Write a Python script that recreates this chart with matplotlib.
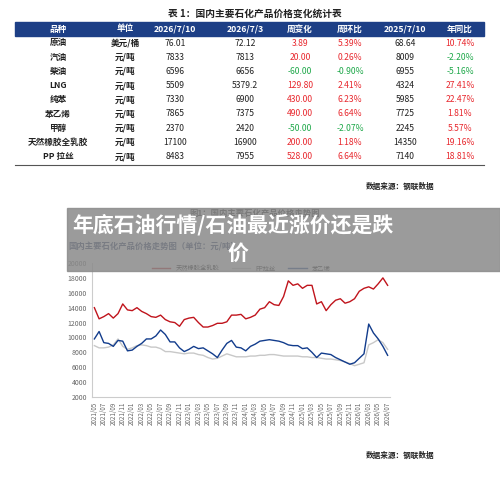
import matplotlib
matplotlib.use('Agg')
import matplotlib.pyplot as plt
from matplotlib.patches import Rectangle
import numpy as np

plt.rcParams['font.family'] = ['Noto Sans CJK SC', 'DejaVu Sans']

# 表格数据
header = ['品种', '单位', '2026/7/10', '2026/7/3', '周变化', '周环比', '2025/7/10', '年同比']
names = ['原油', '汽油', '柴油', 'LNG', '纯苯', '苯乙烯', '甲醇', '天然橡胶全乳胶', 'PP 拉丝']
units = ['美元/桶', '元/吨', '元/吨', '元/吨', '元/吨', '元/吨', '元/吨', '元/吨', '元/吨']
p_now = ['76.01', '7833', '6596', '5509', '7330', '7865', '2370', '17100', '8483']
p_week = ['72.12', '7813', '6656', '5379.2', '6900', '7375', '2420', '16900', '7955']
chg = ['3.89', '20.00', '-60.00', '129.80', '430.00', '490.00', '-50.00', '200.00', '528.00']
chg_pct = ['5.39%', '0.26%', '-0.90%', '2.41%', '6.23%', '6.64%', '-2.07%', '1.18%', '6.64%']
p_year = ['68.64', '8009', '6955', '4324', '5985', '7725', '2245', '14350', '7140']
yoy = ['10.74%', '-2.20%', '-5.16%', '27.41%', '22.47%', '1.81%', '5.57%', '19.16%', '18.81%']

# 走势图数据（月度，2021/05 - 2026/07）
rubber = [14000, 12500, 12800, 13200, 12600, 13200, 14500, 13700,
          13600, 14000, 13500, 13200, 12800, 12700, 13000, 12400, 12100, 12000, 11500, 12400,
          12600, 12700, 12000, 11400, 11400, 11600, 11900, 11900, 12100, 13000, 13000, 13100,
          12500, 12700, 13000, 13800, 14000, 14800, 14400, 14300, 15500, 17600, 17000, 17200,
          16600, 17000, 17000, 14500, 14800, 13600, 14400, 15000, 15200, 14600, 14800, 15200,
          16200, 16600, 16800, 16500, 17200, 18000, 17000]
pp = [8900, 8600, 8600, 8700, 9000, 9800, 8800, 8400,
      8600, 8900, 9000, 8900, 8700, 8700, 8500, 8100, 8100, 8000, 7900, 7800,
      7900, 7900, 7700, 7600, 7300, 7100, 7200, 7500, 7800, 7600, 7400, 7400,
      7400, 7500, 7500, 7600, 7600, 7700, 7700, 7600, 7500, 7500, 7500, 7500,
      7400, 7400, 7300, 7300, 7200, 7100, 7100, 7000, 6900, 6700, 6500, 6200,
      6400, 6600, 9000, 9300, 9700, 9300, 8400]
styrene = [9800, 10800, 9300, 9200, 8800, 9600, 9500, 8200,
           8300, 8800, 9200, 9800, 9800, 10200, 11000, 10400, 9400, 9400, 8600, 8100,
           8400, 8800, 8500, 8600, 8200, 7800, 7300, 8300, 9200, 9600, 8700, 8600,
           8200, 8800, 9100, 9500, 9600, 9700, 9600, 9500, 9300, 9000, 8900, 8900,
           8500, 8600, 8000, 7300, 7900, 7800, 7700, 7300, 7000, 6700, 6400, 6600,
           7200, 7800, 11800, 10600, 9800, 8800, 7600]
months = []
for y in range(2021, 2027):
    for m in range(1, 13):
        if (y == 2021 and m < 5) or (y == 2026 and m > 7):
            continue
        months.append('%d/%02d' % (y, m))

W, H = 500, 480
fig = plt.figure(figsize=(5, 4.8), dpi=100)

def fx(x):
    return x / W

def fy(y):
    return 1 - y / H

# 表格
fig.text(fx(255), fy(14), '表 1：国内主要石化产品价格变化统计表', ha='center', va='center',
         fontsize=7, fontweight='bold', color='#222222')
fig.patches.append(Rectangle((fx(15), fy(35.5)), fx(469), 13.5 / H, transform=fig.transFigure,
                             color='#1d3f86', zorder=0))
cols_x = [58, 125, 175, 245, 300, 350, 405, 460]
for cx, h in zip(cols_x, header):
    fig.text(fx(cx), fy(29), h, ha='center', va='center', fontsize=6.2, color='white', fontweight='bold')
red, green = '#e8282e', '#1fa84a'
for i in range(len(names)):
    yy = fy(43 + i * 14.2)
    row = [names[i], units[i], p_now[i], p_week[i], chg[i], chg_pct[i], p_year[i], yoy[i]]
    for j, (cx, v) in enumerate(zip(cols_x, row)):
        c = '#222222'
        if j >= 4 and j != 6:
            c = green if v.startswith('-') else red
        fig.text(fx(cx), yy, v, ha='center', va='center', fontsize=6.2, color=c,
                 fontweight='bold' if j < 2 else 'normal')
fig.add_artist(plt.Line2D([fx(15), fx(484)], [fy(164.5), fy(164.5)], color='#555555', lw=0.8))
fig.text(fx(400), fy(186), '数据来源：钢联数据', ha='center', va='center', fontsize=5.5,
         fontweight='bold', color='#222222')

# 走势图
fig.text(fx(255), fy(213), '图1：国内主要石化产品价格走势图', ha='center', va='center', fontsize=6,
         fontweight='bold', color='#222222')
fig.text(fx(68), fy(247), '国内主要石化产品价格走势图（单位：元/吨）', ha='left', va='center',
         fontsize=6, fontweight='bold', color='#1d3060')

ax = fig.add_axes([fx(92), fy(397), fx(298), 134 / H])
x = np.arange(len(months))
ax.plot(x, rubber, color='#c0141c', lw=1.0, label='天然橡胶全乳胶')
ax.plot(x, pp, color='#c8c8c8', lw=1.0, label='PP拉丝')
ax.plot(x, styrene, color='#123c8c', lw=1.0, label='苯乙烯')
ax.set_ylim(2000, 20000)
ax.set_yticks(range(2000, 20001, 2000))
ax.set_xlim(-0.5, len(months) - 0.5)
ax.set_xticks(x[::2])
ax.set_xticklabels(months[::2], rotation=90, fontsize=4.5, color='#666666')
ax.tick_params(axis='y', labelsize=5, colors='#666666', length=0)
ax.tick_params(axis='x', length=0)
for s in ['top', 'right']:
    ax.spines[s].set_visible(False)
ax.spines['left'].set_color('#cccccc')
ax.spines['bottom'].set_color('#cccccc')
ax.legend(loc='upper center', ncol=3, frameon=False, fontsize=4.5, bbox_to_anchor=(0.5, 1.03),
          handlelength=3)
fig.text(fx(400), fy(455), '数据来源：钢联数据', ha='center', va='center', fontsize=5.5,
         fontweight='bold', color='#222222')

# 灰色标题遮罩
fig.patches.append(Rectangle((fx(67), fy(271)), fx(433), 63 / H, transform=fig.transFigure,
                             color='#8a8a8a', alpha=0.85, zorder=5))
fig.text(fx(72), fy(225), '年底石油行情/石油最近涨价还是跌', ha='left', va='center', fontsize=15,
         fontweight='bold', color='white', zorder=6)
fig.text(fx(238), fy(253), '价', ha='center', va='center', fontsize=15,
         fontweight='bold', color='white', zorder=6)

fig.savefig('out.png', dpi=100)
